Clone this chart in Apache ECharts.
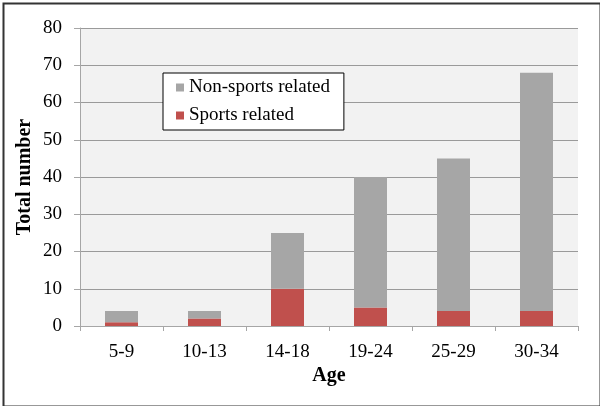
<!DOCTYPE html>
<html>
<head>
<meta charset="utf-8">
<script src="https://cdn.jsdelivr.net/npm/echarts@6/dist/echarts.min.js"></script>
<style>
html,body{margin:0;padding:0;background:#fff;}
#c{width:600px;height:406px;}
</style>
</head>
<body>
<div id="c"></div>
<script>
const categories = ['5-9','10-13','14-18','19-24','25-29','30-34'];
const sportsRelated = [1, 2, 10, 5, 4, 4];
const nonSportsRelated = [3, 2, 15, 35, 41, 64];
const yTicks = {min: 0, max: 80, interval: 10};

const font = '"Liberation Serif", "Times New Roman", serif';
const chart = echarts.init(document.getElementById('c'), null, {renderer: 'canvas'});
chart.setOption({
  animation: false,
  backgroundColor: '#fff',
  graphic: [{
    type: 'rect', left: 1, top: 1, z: 100, silent: true,
    shape: {width: 597, height: 403},
    style: {fill: 'none', stroke: '#333', lineWidth: 2}
  }],
  grid: {
    left: 80, right: 22, top: 28, bottom: 80,
    show: true, backgroundColor: '#f2f2f2', borderWidth: 0
  },
  legend: {
    orient: 'vertical',
    left: 163, top: 73,
    padding: [5, 14, 5, 13],
    itemWidth: 8, itemHeight: 8, itemGap: 9,
    backgroundColor: '#fff',
    borderColor: '#000', borderWidth: 1,
    textStyle: {fontFamily: font, fontSize: 19, color: '#000'},
    data: [
      {name: 'Non-sports related', icon: 'rect'},
      {name: 'Sports related', icon: 'rect'}
    ]
  },
  xAxis: {
    type: 'category',
    data: categories,
    name: 'Age',
    nameLocation: 'middle',
    nameGap: 40,
    nameMoveOverlap: false,
    nameTextStyle: {fontFamily: font, fontSize: 20, fontWeight: 'bold', color: '#000'},
    axisLine: {show: true, lineStyle: {color: '#a6a6a6', width: 1}},
    axisTick: {show: true, length: 5, lineStyle: {color: '#a6a6a6'}},
    axisLabel: {fontFamily: font, fontSize: 19, color: '#000', margin: 17},
    splitLine: {show: false}
  },
  yAxis: {
    type: 'value',
    min: yTicks.min, max: yTicks.max, interval: yTicks.interval,
    name: 'Total number',
    nameLocation: 'middle',
    nameGap: 45,
    nameRotate: 90,
    nameMoveOverlap: false,
    nameTextStyle: {fontFamily: font, fontSize: 20, fontWeight: 'bold', color: '#000'},
    axisLine: {show: true, lineStyle: {color: '#a6a6a6', width: 1}},
    axisTick: {show: true, length: 6, lineStyle: {color: '#a6a6a6'}},
    axisLabel: {fontFamily: font, fontSize: 19, color: '#000', margin: 18},
    splitLine: {show: true, lineStyle: {color: '#9a9a9a', width: 1}}
  },
  series: [
    {
      name: 'Sports related', type: 'bar', stack: 'total',
      data: sportsRelated, barWidth: 33,
      itemStyle: {color: '#c0504d'}
    },
    {
      name: 'Non-sports related', type: 'bar', stack: 'total',
      data: nonSportsRelated, barWidth: 33,
      itemStyle: {color: '#a6a6a6'}
    }
  ]
});
</script>
</body>
</html>
